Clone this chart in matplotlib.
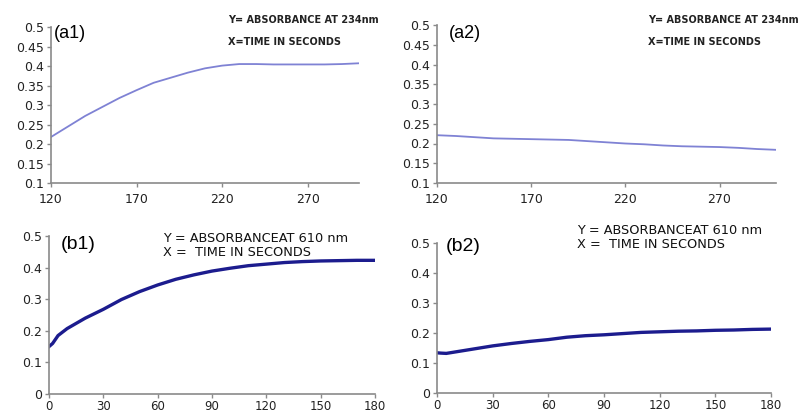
import numpy as np
import matplotlib
matplotlib.use('Agg')
import matplotlib.pyplot as plt

plt.rcParams['font.family'] = ['DejaVu Sans']

# time axis of the 234 nm runs (seconds)
t_a = [120, 130, 140, 150, 160, 170, 180, 190, 200, 210,
       220, 230, 240, 250, 260, 270, 280, 290, 300]
abs_a1 = [0.218, 0.245, 0.272, 0.295, 0.318, 0.338, 0.357, 0.370, 0.383, 0.394,
          0.401, 0.405, 0.405, 0.404, 0.404, 0.404, 0.404, 0.405, 0.407]
abs_a2 = [0.221, 0.219, 0.216, 0.213, 0.212, 0.211, 0.210, 0.209, 0.206, 0.203,
          0.200, 0.198, 0.195, 0.193, 0.192, 0.191, 0.189, 0.186, 0.184]

# time axis of the 610 nm runs (seconds)
t_b = [0, 2, 5, 10, 20, 30, 40, 50, 60, 70, 80, 90, 100,
       110, 120, 130, 140, 150, 160, 170, 180]
abs_b1 = [0.150, 0.160, 0.185, 0.207, 0.240, 0.268, 0.299, 0.324, 0.345, 0.363, 0.377,
          0.389, 0.398, 0.406, 0.411, 0.416, 0.419, 0.421, 0.422, 0.423, 0.423]
abs_b2 = [0.134, 0.133, 0.132, 0.137, 0.147, 0.157, 0.165, 0.172, 0.178, 0.186, 0.191,
          0.194, 0.198, 0.202, 0.204, 0.206, 0.207, 0.209, 0.210, 0.212, 0.213]

a_xticks = [120, 170, 220, 270]
a_yticks = [0.1, 0.15, 0.2, 0.25, 0.3, 0.35, 0.4, 0.45, 0.5]
b_xticks = [0, 30, 60, 90, 120, 150, 180]
b_yticks = [0, 0.1, 0.2, 0.3, 0.4, 0.5]

W, H = 799, 412
fig = plt.figure(figsize=(W / 100, H / 100), dpi=100)


def px_axes(l, t, r, b):
    return fig.add_axes([l / W, 1 - b / H, (r - l) / W, (b - t) / H])


def px_text(x, y, s, **kw):
    fig.text(x / W, 1 - y / H, s, **kw)


def style(ax, xt, yt, ylim, xlim, xpad, xsize):
    for s in ['top', 'right']:
        ax.spines[s].set_visible(False)
    for s in ['left', 'bottom']:
        ax.spines[s].set_color('#8a8a8a')
        ax.spines[s].set_linewidth(1.2)
    ax.set_xlim(xlim)
    ax.set_ylim(ylim)
    ax.set_xticks(xt)
    ax.set_yticks(yt)
    ax.set_yticklabels(['{:g}'.format(v) for v in yt])
    ax.tick_params(axis='both', length=3, width=1, color='#8a8a8a',
                   labelsize=9, labelcolor='#222222', pad=2)
    ax.tick_params(axis='x', pad=xpad, labelsize=xsize)
    ax.patch.set_alpha(0)


note_a = dict(fontsize=7, fontweight='bold', va='center', color='#222222')
note_b = dict(fontsize=9.3, va='center', color='#111111')

# (a1)
ax = px_axes(51, 27, 359, 183)
ax.plot(t_a, abs_a1, color='#7f82d4', lw=1.3)
style(ax, a_xticks, a_yticks, (0.1, 0.5), (120, 300), 4, 9)
px_text(54, 33, '(a1)', fontsize=13, va='center', family='Liberation Sans')
px_text(228, 20, 'Y= ABSORBANCE AT 234nm', **note_a)
px_text(228, 42, 'X=TIME IN SECONDS', **note_a)

# (a2)
ax = px_axes(437, 25, 776, 183)
ax.plot(t_a, abs_a2, color='#7f82d4', lw=1.3)
style(ax, a_xticks, a_yticks, (0.1, 0.5), (120, 300), 4, 9)
px_text(449, 33, '(a2)', fontsize=13, va='center', family='Liberation Sans')
px_text(648, 20, 'Y= ABSORBANCE AT 234nm', **note_a)
px_text(648, 42, 'X=TIME IN SECONDS', **note_a)

# (b1)
ax = px_axes(49, 236, 375, 394)
ax.plot(t_b, abs_b1, color='#1c1c8e', lw=2.4)
style(ax, b_xticks, b_yticks, (0, 0.5), (0, 180), 1, 8.5)
px_text(61, 245, '(b1)', fontsize=14, va='center', family='Liberation Sans')
px_text(163, 238, 'Y = ABSORBANCEAT 610 nm', **note_b)
px_text(163, 253, 'X =  TIME IN SECONDS', **note_b)

# (b2)
ax = px_axes(437, 243, 771, 393)
ax.plot(t_b, abs_b2, color='#1c1c8e', lw=2.4)
style(ax, b_xticks, b_yticks, (0, 0.5), (0, 180), 1, 8.5)
px_text(446, 247, '(b2)', fontsize=14, va='center', family='Liberation Sans')
px_text(577, 231, 'Y = ABSORBANCEAT 610 nm', **note_b)
px_text(577, 245, 'X =  TIME IN SECONDS', **note_b)

fig.savefig('out.png', dpi=100)
